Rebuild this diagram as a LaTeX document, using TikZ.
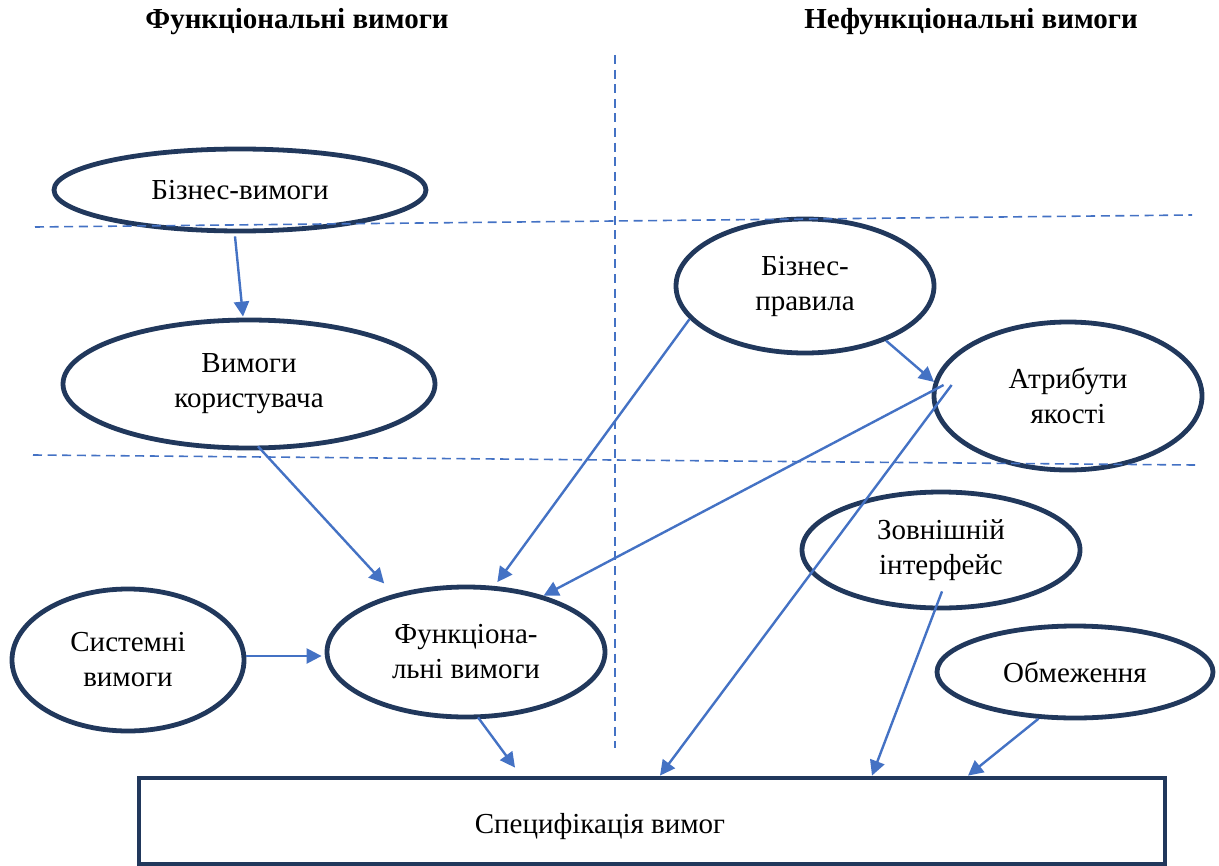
\documentclass[tikz,border=0pt]{standalone}
\usepackage{fontspec}
\setmainfont{Liberation Serif}
\usetikzlibrary{shapes.geometric,positioning,calc,arrows.meta}

\definecolor{navy}{RGB}{33,56,92}
\definecolor{accblue}{RGB}{68,114,196}

\begin{document}
\begin{tikzpicture}[x=0.5pt,y=-0.5pt,
   oval/.style={ellipse,draw=navy,line width=2.4pt,inner sep=0pt,align=center,
      font=\fontsize{14.5}{17.5}\selectfont},
   arr/.style={draw=accblue,line width=1.2pt,-{Triangle[length=7.5pt,width=7.5pt]}},
   sep/.style={draw=accblue,line width=0.8pt,dash pattern=on 4.5pt off 2.8pt},
   head/.style={font=\fontsize{14.5}{17.5}\selectfont\bfseries}]

\useasboundingbox (0,0) rectangle (1219,866);

% headers
\node[head] (hfun) at (297,22) {Функціональні вимоги};
\node[head] (hnon) at (971,22) {Нефункціональні вимоги};

% requirement ovals
\node[oval,minimum width=186pt,minimum height=41pt] (biz)    at ( 240,190) {Бізнес-вимоги};
\node[oval,minimum width=186pt,minimum height=64pt] (user)   at ( 249,384) {Вимоги\\користувача};
\node[oval,minimum width=116pt,minimum height=71pt] (sys)    at ( 128,660) {Системні\\вимоги};
\node[oval,minimum width=139pt,minimum height=65pt] (func)   at ( 466,652) {Функціона-\\льні вимоги};
\node[oval,minimum width=129pt,minimum height=67pt] (rules)  at ( 805,286) {Бізнес-\\правила};
\node[oval,minimum width=134pt,minimum height=74pt] (qual)   at (1068,396) {Атрибути\\якості};
\node[oval,minimum width=139pt,minimum height=58pt] (iface)  at ( 941,550) {Зовнішній\\інтерфейс};
\node[oval,minimum width=138pt,minimum height=46pt] (constr) at (1075,672) {Обмеження};

% specification box
\node[draw=navy,line width=2.4pt,minimum width=513pt,minimum height=43pt] (spec) at (652,821) {};
\node[font=\fontsize{14.5}{17.5}\selectfont] (spectxt) at ($(spec.center)+(-52,6)$) {Специфікація вимог};

% dashed separators
\draw[sep] (615,55) -- (615,748);
\draw[sep] (35,227) -- (1192,215);
\draw[sep] (33,455) -- (1195,465);

% arrows
\draw[arr] ($(biz.south)+(-5,3)$) -- ($(user.north)+(-6,-1)$);
\draw[arr] ($(user.south)+(9,-4)$) -- ($(func.140)+(-12,-10)$);
\draw[arr] ($(sys.east)+(0,-4)$) -- ($(func.west)+(-3,4)$);
\draw[arr] (rules.196) -- ($(func.66)+(2,-4)$);
\draw[arr] ($(qual.west)+(12,-11)$) -- (func.36);
\draw[arr] (rules.-34) -- (qual.174);
\draw[arr] ($(qual.west)+(20,-11)$) -- ($(spec.north)+(8,0)$);
\draw[arr] ($(func.south)+(12,-2)$) -- ($(spec.north)+(-137,-8)$);
\draw[arr] ($(iface.south)+(1,-19)$) -- ($(spec.north)+(220,0)$);
\draw[arr] (constr.232) -- ($(spec.north)+(316,0)$);

\end{tikzpicture}
\end{document}
